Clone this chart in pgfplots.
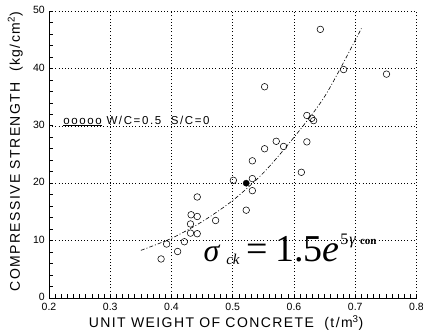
\documentclass[border=0pt]{standalone}
\usepackage{fontspec}
\setmainfont{Liberation Sans}
\newfontfamily\labelfont[LetterSpace=10]{Liberation Sans}
\newfontfamily\legfont[LetterSpace=14]{Liberation Sans}
\newfontfamily\eqfont{Liberation Serif}
\usepackage{pgfplots}
\pgfplotsset{compat=1.18}
\begin{document}
\begin{tikzpicture}
\begin{axis}[
  scale only axis, width=367.5pt, height=287pt,
  xmin=0.2, xmax=0.8, ymin=0, ymax=50,
  axis x line*=bottom, axis y line*=left,
  axis line style={line width=0.9pt},
  xtick={0.2,0.3,0.4,0.5,0.6,0.7,0.8},
  ytick={0,10,20,30,40,50},
  minor x tick num=9, minor y tick num=4,
  tick align=inside,
  major tick length=4pt, minor tick length=3.5pt,
  tick style={line width=0.6pt, black},
  grid=major,
  major grid style={line width=0.55pt, black, dash pattern=on 1pt off 2.2pt},
  /pgf/number format/assume math mode=true,
  xticklabel={\pgfmathprintnumber[fixed,fixed zerofill,precision=1]{\tick}},
  yticklabel={\pgfmathprintnumber[fixed,precision=0]{\tick}},
  tick label style={font=\fontsize{10.5}{12}\selectfont},
  xticklabel style={inner sep=0pt, anchor=north, yshift=-5pt},
  yticklabel style={inner sep=0pt, anchor=east, xshift=-4pt, yshift=1pt},
  xlabel={UNIT WEIGHT OF CONCRETE \ (t/m\textsuperscript{3})},
  ylabel={COMPRESSIVE STRENGTH \ (kg/cm\textsuperscript{2})},
  label style={font=\labelfont\fontsize{14}{16}\selectfont},
  xlabel style={at={(axis description cs:0.482,-0.1045)}, anchor=base},
  ylabel style={at={(axis description cs:-0.079,0.51)}, anchor=base},
  clip=false,
]
% measured specimens
\addplot[only marks, mark=o, mark size=3.3pt, mark options={line width=0.55pt, black}] coordinates {
  (0.383,6.8) (0.392,9.4) (0.410,8.1) (0.421,9.8) (0.431,11.3) (0.442,11.2)
  (0.431,12.9) (0.472,13.5) (0.432,14.5) (0.442,14.2) (0.442,17.6)
  (0.501,20.5) (0.522,15.3) (0.532,18.7) (0.532,20.8) (0.532,23.9)
  (0.552,26.0) (0.552,36.8) (0.571,27.3) (0.583,26.4) (0.612,21.9)
  (0.621,27.2) (0.621,31.8) (0.629,31.3) (0.632,30.9) (0.643,46.8)
  (0.681,39.8) (0.751,39.0)
};
\addplot[only marks, mark=*, mark size=3.1pt, mark options={black}] coordinates {(0.522,20.0)};
% fitted curve
\addplot[smooth, black, line width=0.6pt, dash pattern=on 4pt off 2pt on 1pt off 2pt] coordinates {
  (0.35,8.3) (0.40,10.4) (0.45,13.3) (0.50,17.0) (0.55,21.8) (0.60,28.0)
  (0.65,35.1) (0.70,44.9) (0.71,47.0)
};
\node[anchor=base west, inner sep=0pt, font=\legfont\fontsize{11.5}{12}\selectfont]
  at (axis cs:0.223,30.3) {\underline{ooooo} W/C=0.5 \ S/C=0};
\node[anchor=base west, inner sep=0pt] at (axis cs:0.452,6.4)
  {\eqfont\fontsize{32}{36}\selectfont\itshape σ\kern7pt\raisebox{-3pt}{\fontsize{15}{15}\selectfont ck}\kern7pt\upshape\fontsize{38}{40}\selectfont =\kern7pt1.5\textit{e}\kern1pt\raisebox{17pt}{\fontsize{16}{16}\selectfont 5\kern1pt\textit{γ}\kern4pt\fontsize{11}{11}\selectfont\bfseries con}};
\end{axis}
\pgfresetboundingbox
\path ([shift={(-49pt,-37pt)}]current axis.south west) rectangle ([shift={(6.5pt,11pt)}]current axis.north east);
\end{tikzpicture}
\end{document}
